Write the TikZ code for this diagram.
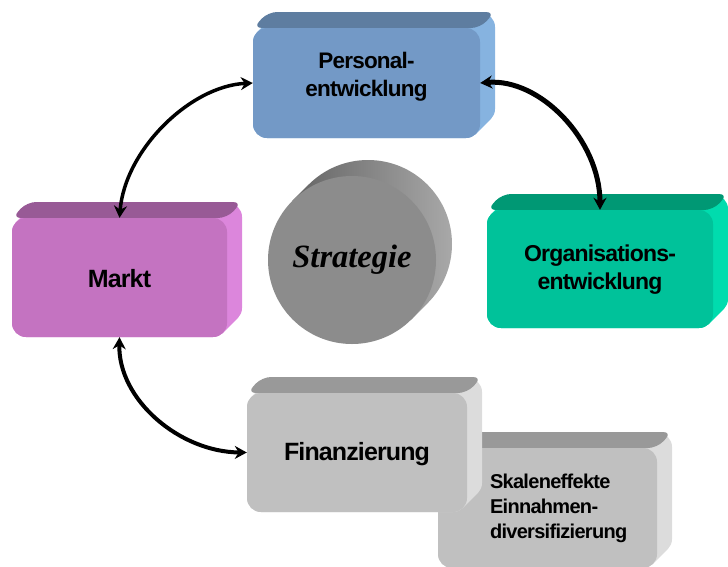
\documentclass[tikz,border=0pt]{standalone}
\usepackage{fontspec}
\setmainfont{Liberation Sans}[LetterSpace = -3.5]
\newfontfamily\stratfont{Liberation Serif}
\usetikzlibrary{calc, arrows.meta, positioning}

\definecolor{persFront}{HTML}{7399C6}
\definecolor{persTop}{HTML}{5E7DA0}
\definecolor{persSide}{HTML}{86B3E0}
\definecolor{marktFront}{HTML}{C473C1}
\definecolor{marktTop}{HTML}{985A96}
\definecolor{marktSide}{HTML}{DC86DC}
\definecolor{orgaFront}{HTML}{00C29A}
\definecolor{orgaTop}{HTML}{009874}
\definecolor{orgaSide}{HTML}{00DCAE}
\definecolor{finFront}{HTML}{C0C0C0}
\definecolor{finTop}{HTML}{999999}
\definecolor{finSide}{HTML}{DCDCDC}
\definecolor{stratFront}{HTML}{8C8C8C}

\tikzset{
    face/.style = {rectangle, rounded corners = 14pt, align = center, inner sep = 0pt},
    small/.style = {align = left, inner sep = 0pt, font = \bfseries\fontsize{20}{25}\selectfont},
    link/.style = {<->, >={Stealth[length = 12pt, width = 13pt]}, line width = 4pt}
}

\begin{document}
\begin{tikzpicture}[x = 1pt, y = -1pt]
            \useasboundingbox (0,0) rectangle (728,566);

                % Blocks: extrusion first, then the front face and its text
                \foreach \cx/\cy/\w/\h/\ty/\fs/\nm/\clr/\txt in {
                        366.5/83/227/110/-6/22.5/pers/pers/{Personal-\\entwicklung},
                        119.5/277.5/215/119/1/25/markt/markt/{Markt},
                        600/269/226/118/1/23/orga/orga/{Organisations-\\entwicklung},
                        547.5/508/219/120/0/20/skal/fin/{},
                        357/452.5/220/119/2/25/fin/fin/{Finanzierung}}
                {
                    \foreach \s in {0,...,15}
                        \fill[fill = \clr Side, rounded corners = 14pt] (\cx-\w/2+\s, \cy-\h/2-\s) rectangle (\cx+\w/2+\s, \cy+\h/2-\s);
                    \fill[fill = \clr Top, rounded corners = 9pt] (\cx-\w/2, \cy-\h/2) -- (\cx-\w/2+15, \cy-\h/2-16)
                        -- (\cx+\w/2+15, \cy-\h/2-16) -- (\cx+\w/2, \cy-\h/2) -- cycle;
                    \node[face, fill = \clr Front, minimum width = \w pt, minimum height = \h pt] (\nm) at (\cx,\cy) {};
                    \node[face, font = \bfseries\fontsize{\fs}{28}\selectfont] (\nm-txt) at (\cx,\cy+\ty) {\txt};
                }
                \node[small, right = 52pt of skal.west] (skaltext) {Skaleneffekte\\Einnahmen-\\diversifizierung};

                % Cylinder:
                \shade[left color = black!62, right color = black!34]
                    (292.6,200.6) -- (308.6,184.6) -- (427.4,303.4) -- (411.4,319.4) -- cycle
                    (368,244) circle (84);
                \node[circle, fill = stratFront, minimum size = 168pt, inner sep = 0pt,
                      font = \stratfont\bfseries\itshape\fontsize{32.5}{38}\selectfont] (strat) at (352,260) {Strategie};

                % Arrows:
                \draw[link, line width = 3.5pt] (markt.north) .. controls (125,150) and (190,86) .. (pers.west);
                \draw[link, line width = 5pt] (pers.east) .. controls (540,78) and (600,140) .. (orga.north);
                \draw[link] (markt.south) .. controls (118,400) and (180,452) .. (fin.west);
            \end{tikzpicture}
\end{document}
